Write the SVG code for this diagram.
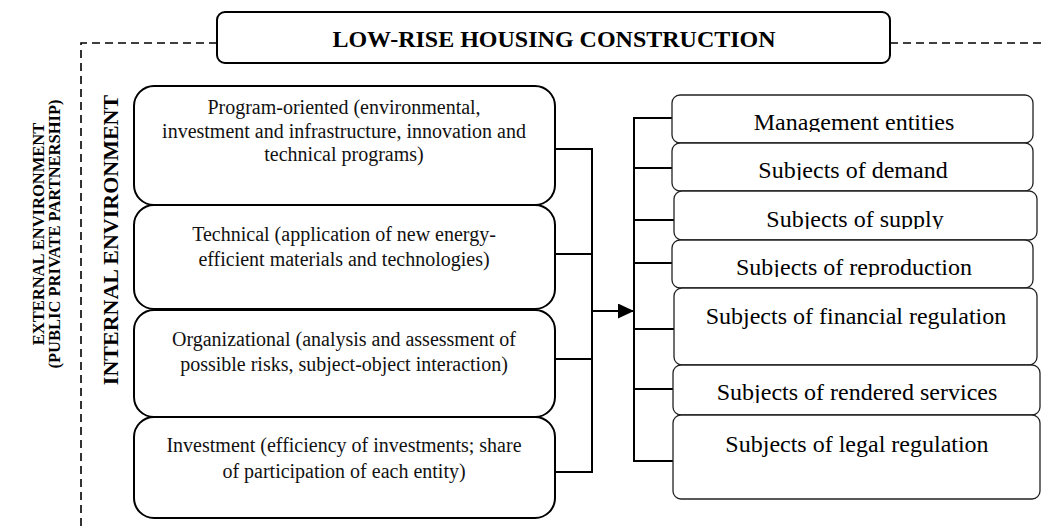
<svg xmlns="http://www.w3.org/2000/svg" width="1046" height="526" viewBox="0 0 1046 526">
<style>
  .serif { font-family: "Liberation Serif", "Times New Roman", serif; fill: #000; }
  .bold { font-weight: bold; }
  .lbox { fill: #fff; stroke: #000; stroke-width: 2; }
  .rbox { fill: #fff; stroke: #222; stroke-width: 1.3; }
  .tbox { fill: #fff; stroke: #000; stroke-width: 2; }
  .ltxt { font-size: 20px; text-anchor: middle; fill: #111; }
  .rtxt { font-size: 24px; text-anchor: middle; }
  .conn { fill: none; stroke: #000; stroke-width: 2; }
  .dash { fill: none; stroke: #000; stroke-width: 1.6; stroke-dasharray: 8 5; }
</style>
<defs>
  <marker id="arrow" markerUnits="userSpaceOnUse" markerWidth="16" markerHeight="15" refX="16" refY="7.5" orient="auto">
    <path d="M0,0 L16,7.5 L0,15 z" fill="#000"/>
  </marker>
  <clipPath id="cA"><rect x="672" y="95" width="361" height="37"/></clipPath>
  <clipPath id="cB"><rect x="672" y="143" width="361" height="37"/></clipPath>
  <clipPath id="cC"><rect x="674" y="191" width="363" height="38"/></clipPath>
  <clipPath id="cD"><rect x="672" y="240" width="361" height="37"/></clipPath>
  <clipPath id="cF"><rect x="673" y="365" width="367" height="38"/></clipPath>
</defs>

<g id="external-boundary">
  <path class="dash" d="M217,43 H81 V526"/>
  <path class="dash" d="M890,43 H1046"/>
</g>

<g id="external-label">
  <text class="serif bold" font-size="16.5" text-anchor="middle" transform="translate(44,234) rotate(-90)">EXTERNAL ENVIRONMENT</text>
  <text class="serif bold" font-size="16.5" text-anchor="middle" transform="translate(60,234) rotate(-90)">(PUBLIC PRIVATE PARTNERSHIP)</text>
</g>

<g id="internal-label">
  <text class="serif bold" font-size="22" text-anchor="middle" transform="translate(118,240) rotate(-90)">INTERNAL ENVIRONMENT</text>
</g>

<g id="title">
  <rect class="tbox" x="217" y="12" width="673" height="51" rx="8"/>
  <text class="serif bold" font-size="24" text-anchor="middle" x="554" y="47">LOW-RISE HOUSING CONSTRUCTION</text>
</g>

<g id="connectors">
  <path class="conn" d="M555,149 H592 M555,254 H592 M555,359 H592 M555,472 H592 M592,148 V473"/>
  <path class="conn" d="M592,311 H634" marker-end="url(#arrow)"/>
  <path class="conn" d="M634,117 V462 M634,118 H672 M634,168 H672 M634,220 H674 M634,263 H672 M634,329 H674 M634,389 H673 M634,461 H673"/>
</g>

<g id="program-oriented">
  <rect class="lbox" x="134" y="86" width="421" height="119" rx="20"/>
  <text class="serif ltxt" x="344" y="114">Program-oriented (environmental,</text>
  <text class="serif ltxt" x="344" y="138">investment and infrastructure, innovation and</text>
  <text class="serif ltxt" x="344" y="161">technical programs)</text>
</g>
<g id="technical">
  <rect class="lbox" x="134" y="205" width="421" height="104" rx="20"/>
  <text class="serif ltxt" x="344" y="241">Technical (application of new energy-</text>
  <text class="serif ltxt" x="344" y="266">efficient materials and technologies)</text>
</g>
<g id="organizational">
  <rect class="lbox" x="134" y="310" width="421" height="107" rx="20"/>
  <text class="serif ltxt" x="344" y="346">Organizational (analysis and assessment of</text>
  <text class="serif ltxt" x="344" y="371">possible risks, subject-object interaction)</text>
</g>
<g id="investment">
  <rect class="lbox" x="134" y="417" width="421" height="101" rx="20"/>
  <text class="serif ltxt" x="344" y="452">Investment (efficiency of investments; share</text>
  <text class="serif ltxt" x="344" y="478">of participation of each entity)</text>
</g>

<g id="management-entities">
  <rect class="rbox" x="672" y="95" width="361" height="48" rx="8"/>
  <text class="serif rtxt" x="854" y="130" clip-path="url(#cA)">Management entities</text>
</g>
<g id="subjects-demand">
  <rect class="rbox" x="672" y="143" width="361" height="48" rx="8"/>
  <text class="serif rtxt" x="853" y="178" clip-path="url(#cB)">Subjects of demand</text>
</g>
<g id="subjects-supply">
  <rect class="rbox" x="674" y="191" width="363" height="49" rx="8"/>
  <text class="serif rtxt" x="855" y="227" clip-path="url(#cC)">Subjects of supply</text>
</g>
<g id="subjects-reproduction">
  <rect class="rbox" x="672" y="240" width="361" height="48" rx="8"/>
  <text class="serif rtxt" x="854" y="275" clip-path="url(#cD)">Subjects of reproduction</text>
</g>
<g id="subjects-financial">
  <rect class="rbox" x="674" y="288" width="363" height="77" rx="8"/>
  <text class="serif rtxt" x="856" y="324">Subjects of financial regulation</text>
</g>
<g id="subjects-rendered">
  <rect class="rbox" x="673" y="365" width="367" height="50" rx="8"/>
  <text class="serif rtxt" x="857" y="400" clip-path="url(#cF)">Subjects of rendered services</text>
</g>
<g id="subjects-legal">
  <rect class="rbox" x="673" y="415" width="367" height="84" rx="8"/>
  <text class="serif rtxt" x="857" y="452">Subjects of legal regulation</text>
</g>
</svg>
